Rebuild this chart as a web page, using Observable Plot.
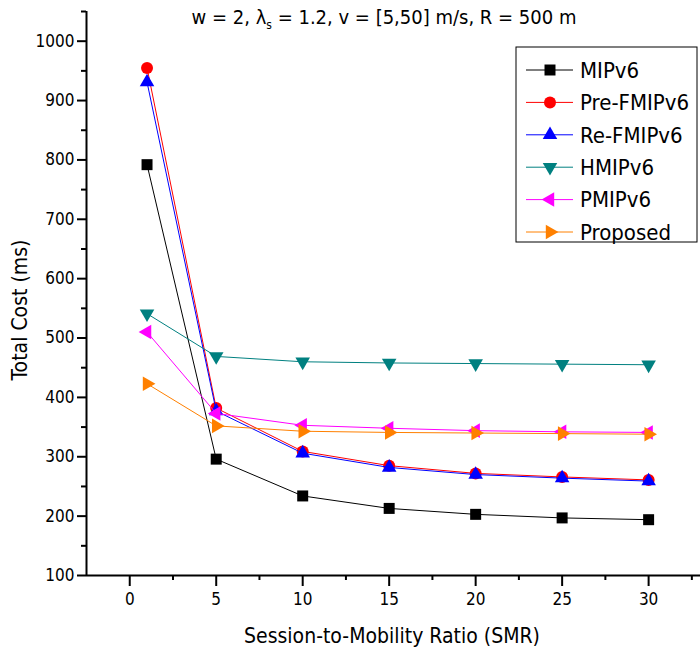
<!DOCTYPE html>
<html>
<head>
<meta charset="utf-8">
<script src="https://cdn.jsdelivr.net/npm/d3@7"></script>
<script src="https://cdn.jsdelivr.net/npm/@observablehq/plot@0.6"></script>
<style>
  html, body { margin: 0; padding: 0; background: #fff; }
  #chart svg { display: block; }
</style>
</head>
<body>
<div id="chart"></div>
<script>
const smr = [1, 5, 10, 15, 20, 25, 30];
const seriesNames = ["MIPv6", "Pre-FMIPv6", "Re-FMIPv6", "HMIPv6", "PMIPv6", "Proposed"];
const mipv6     = [792, 296, 234, 213, 203, 197, 194];
const preFmipv6 = [955, 382, 309, 285, 272, 266, 261];
const reFmipv6  = [931, 377, 306, 282, 270, 264, 259];
const hmipv6    = [541, 469, 460, 458, 457, 456, 455];
const pmipv6    = [510, 373, 353, 348, 344, 342, 341];
const proposed  = [423, 352, 343, 341, 340, 339, 338];
const yTicks = [100, 200, 300, 400, 500, 600, 700, 800, 900, 1000];
const xTicks = [0, 5, 10, 15, 20, 25, 30];

const valuesBySeries = [mipv6, preFmipv6, reFmipv6, hmipv6, pmipv6, proposed];
const colors = ["#000000", "#ff0000", "#0000ff", "#008080", "#ff00ff", "#ff8000"];
const symbols = ["square", "circle", "triangle", "triangle", "triangle", "triangle"];
const rotations = [0, 0, 0, 180, 270, 90];
const radii = [6.2, 6, 5.4, 5.4, 5.4, 5.4];

const FONT = "'Liberation Sans Narrow', 'DejaVu Sans Condensed', 'Liberation Sans', sans-serif";

const marks = [];
seriesNames.forEach((name, i) => {
  const data = smr.map((x, j) => ({x, y: valuesBySeries[i][j], s: name}));
  marks.push(Plot.line(data, {x: "x", y: "y", stroke: colors[i], strokeWidth: 1}));
  marks.push(Plot.dot(data, {x: "x", y: "y", symbol: () => symbols[i], fill: colors[i], stroke: "none", r: radii[i], rotate: rotations[i]}));
});

const minorY = d3.range(150, 1100, 100);
const minorX = d3.range(2.5, 35, 5);

const chart = Plot.plot({
  width: 700,
  height: 661,
  marginLeft: 86,
  marginRight: 0,
  marginTop: 11,
  marginBottom: 86,
  style: {fontFamily: FONT, background: "#fff"},
  x: {domain: [-2.5, 33], label: null},
  y: {domain: [100, 1050], label: null},
  symbol: {type: "identity"},
  marks: [
    Plot.axisY({ticks: yTicks, tickSize: 9, tickPadding: 3, fontSize: 17, strokeWidth: 2, label: null, tickFormat: d => String(d)}),
    Plot.axisY({ticks: minorY, tickSize: 5, strokeWidth: 2, text: null, label: null}),
    Plot.axisX({ticks: xTicks, tickSize: 11, tickPadding: 6, fontSize: 17, strokeWidth: 2, label: null}),
    Plot.axisX({ticks: minorX, tickSize: 5, strokeWidth: 2, text: null, label: null}),
    Plot.ruleX([-2.5], {stroke: "#000", strokeWidth: 2}),
    Plot.ruleY([100], {stroke: "#000", strokeWidth: 2}),
    ...marks
  ]
});

const svg = d3.select(chart);

// Axis titles
svg.append("text")
  .attr("x", 392).attr("y", 643)
  .attr("text-anchor", "middle")
  .attr("font-family", FONT).attr("font-size", 21)
  .attr("fill", "#000")
  .text("Session-to-Mobility Ratio (SMR)");

svg.append("text")
  .attr("transform", "translate(27,310) rotate(-90)")
  .attr("text-anchor", "middle")
  .attr("font-family", FONT).attr("font-size", 21)
  .attr("fill", "#000")
  .text("Total Cost (ms)");

// Title with subscript
const title = svg.append("text")
  .attr("x", 384).attr("y", 24)
  .attr("text-anchor", "middle")
  .attr("font-family", FONT).attr("font-size", 20)
  .attr("fill", "#000");
title.append("tspan").text("w = 2, λ");
title.append("tspan").attr("font-size", 12).attr("dy", 5).text("s");
title.append("tspan").attr("dy", -5).text(" = 1.2, v = [5,50] m/s, R = 500 m");

// Legend
const lg = svg.append("g").attr("font-family", FONT).attr("font-size", 22).attr("text-anchor", "start");
lg.append("rect").attr("x", 516).attr("y", 47).attr("width", 181).attr("height", 195)
  .attr("fill", "#fff").attr("stroke", "#000").attr("stroke-width", 1);
seriesNames.forEach((name, i) => {
  const cy = 70 + i * 32.4;
  lg.append("line").attr("x1", 526).attr("x2", 573).attr("y1", cy).attr("y2", cy)
    .attr("stroke", colors[i]).attr("stroke-width", 1);
  const sym = d3.symbol().type(symbols[i] === "square" ? d3.symbolSquare : symbols[i] === "circle" ? d3.symbolCircle : d3.symbolTriangle)
    .size(Math.PI * radii[i] * radii[i]);
  lg.append("path").attr("d", sym()).attr("fill", colors[i])
    .attr("transform", `translate(550,${cy}) rotate(${rotations[i]})`);
  lg.append("text").attr("x", 580).attr("y", cy).attr("dy", "0.35em").attr("text-anchor", "start").attr("fill", "#000").text(name);
});

document.getElementById("chart").appendChild(chart);
</script>
</body>
</html>
